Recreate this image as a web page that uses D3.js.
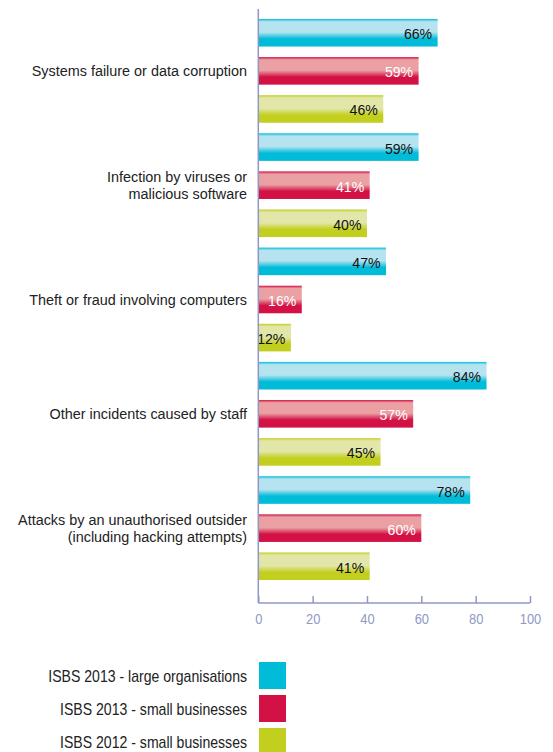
<!DOCTYPE html>
<html><head><meta charset="utf-8">
<script src="https://cdn.jsdelivr.net/npm/d3@7"></script>
<style>body{margin:0;background:#fff}svg{display:block}</style>
</head><body>
<script>
const categories = [
  ["Systems failure or data corruption"],
  ["Infection by viruses or", "malicious software"],
  ["Theft or fraud involving computers"],
  ["Other incidents caused by staff"],
  ["Attacks by an unauthorised outsider", "(including hacking attempts)"]
];
const seriesNames = ["ISBS 2013 - large organisations", "ISBS 2013 - small businesses", "ISBS 2012 - small businesses"];
const large2013 = [66, 59, 47, 84, 78];
const small2013 = [59, 41, 16, 57, 60];
const small2012 = [46, 40, 12, 45, 41];
const tickValues = [0, 20, 40, 60, 80, 100];

const seriesValues = [large2013, small2013, small2012];
const colors = [
  {dark: "#00bcd9", light: "#b5e3f0", text: "#111"},
  {dark: "#d31145", light: "#eba1a3", text: "#fff"},
  {dark: "#c3cf1f", light: "#e2e7a9", text: "#111"}
];
const FONT = "Liberation Sans, Arial, sans-serif";

const W = 553, H = 752;
const svg = d3.select("body").append("svg").attr("width", W).attr("height", H);
const defs = svg.append("defs");
colors.forEach((c, i) => {
  const g = defs.append("linearGradient").attr("id", "g" + i).attr("x1", 0).attr("y1", 0).attr("x2", 0).attr("y2", 1);
  [[0, c.dark], [0.1, c.light], [0.48, c.light], [0.72, c.dark], [1, c.dark]].forEach(([o, col]) =>
    g.append("stop").attr("offset", o).attr("stop-color", col));
});

const x = d3.scaleLinear().domain([0, 100]).range([258.3, 530]);
const rows = [];
categories.forEach((c, ci) => seriesValues.forEach((s, si) => rows.push({ci, si, v: s[ci], key: ci + "-" + si})));
const y = d3.scaleBand().domain(rows.map(r => r.key)).range([13.7, 585.3]).paddingInner(0.276).paddingOuter(0.138);

const axisColor = "#8f98c4";
// bars
svg.selectAll("rect.bar").data(rows).join("rect").attr("class", "bar")
  .attr("x", x(0)).attr("y", d => y(d.key)).attr("width", d => x(d.v) - x(0)).attr("height", y.bandwidth())
  .attr("fill", d => `url(#g${d.si})`);
svg.selectAll("text.val").data(rows).join("text").attr("class", "val")
  .attr("transform", d => `translate(${x(d.v) - 5.5},${y(d.key) + y.bandwidth() / 2 + 6.5}) scale(0.91,1)`)
  .attr("text-anchor", "end").attr("font-family", FONT).attr("font-size", 15.5)
  .attr("fill", d => colors[d.si].text).text(d => d.v + "%");

// axes
const xAxis = d3.axisBottom(x).tickValues(tickValues).tickSize(-7).tickPadding(11);
const ax = svg.append("g").attr("transform", "translate(0,603)").call(xAxis);
ax.select(".domain").attr("stroke", axisColor).attr("stroke-width", 1.5).attr("d", `M${x(0)},0H${x(100)}`);
ax.selectAll(".tick line").attr("stroke", axisColor).attr("stroke-width", 1.5);
ax.selectAll(".tick text").attr("fill", axisColor).attr("font-family", FONT).attr("font-size", 14)
  .attr("transform", "scale(0.92,1)");
svg.append("line").attr("x1", x(0)).attr("x2", x(0)).attr("y1", 9).attr("y2", 603).attr("stroke", axisColor).attr("stroke-width", 1.5);

// category labels
categories.forEach((lines, ci) => {
  const cy = y(ci + "-1") + y.bandwidth() / 2;
  const t = svg.append("text").attr("text-anchor", "end").attr("font-family", FONT)
    .attr("font-size", 15.5).attr("fill", "#222")
    .attr("transform", `translate(247,${cy + 5.6}) scale(0.93,1)`);
  lines.forEach((l, li) => t.append("tspan").attr("x", 0)
    .attr("y", (li - (lines.length - 1) / 2) * 17).text(l));
});

// legend
seriesNames.forEach((n, i) => {
  const ly = 662 + i * 33;
  svg.append("rect").attr("x", 259).attr("y", ly).attr("width", 27).attr("height", 27).attr("fill", colors[i].dark);
  svg.append("text").attr("transform", `translate(247,${ly + 19.7}) scale(0.88,1)`).attr("text-anchor", "end")
    .attr("font-family", FONT).attr("font-size", 16).attr("fill", "#222").text(n);
});
</script>
</body></html>
